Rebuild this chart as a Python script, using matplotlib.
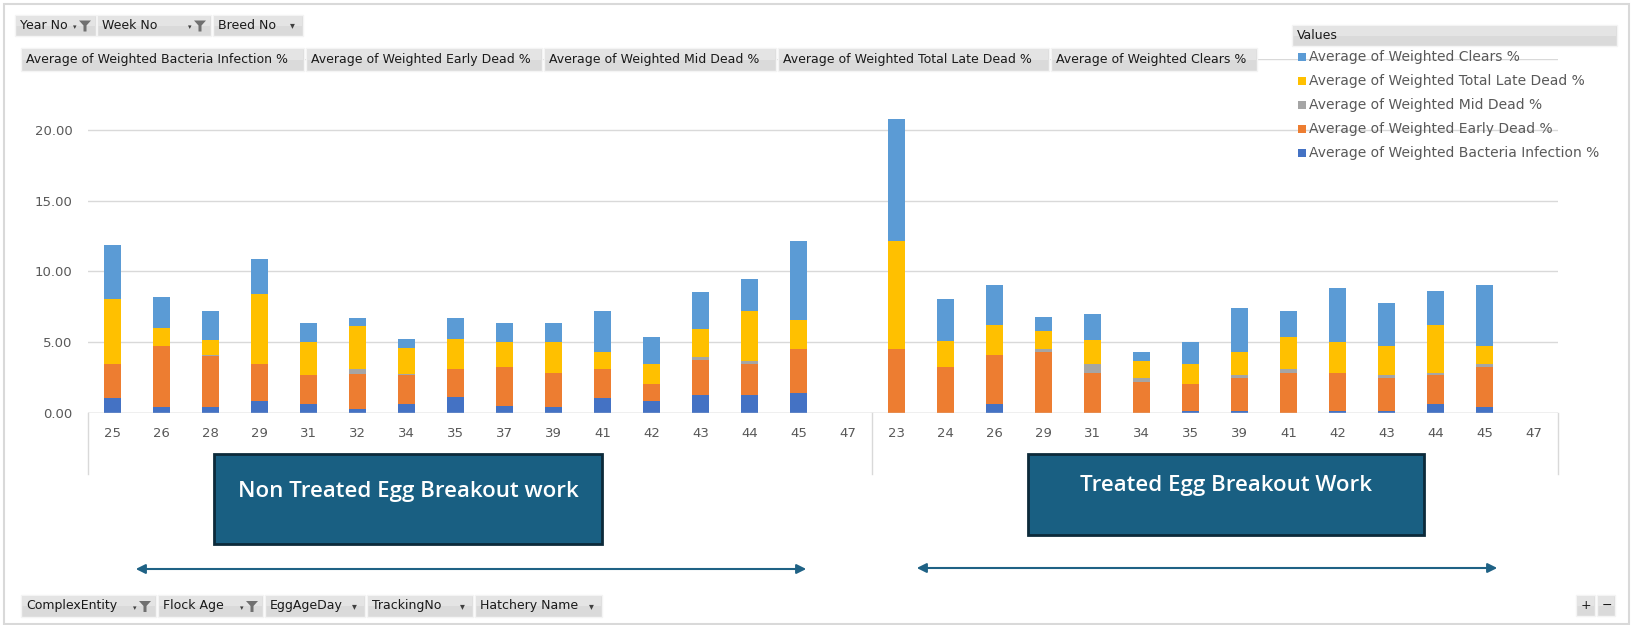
import numpy as np
import matplotlib
matplotlib.use("Agg")
import matplotlib.pyplot as plt
from matplotlib.patches import Rectangle, Polygon, FancyArrowPatch

# figure size in pixels
W, H = 1634, 625

# week numbers (category axis), two groups
weeks_non = ['25', '26', '28', '29', '31', '32', '34', '35', '37', '39', '41', '42', '43', '44', '45', '47']
weeks_trt = ['23', '24', '26', '29', '31', '34', '35', '39', '41', '42', '43', '44', '45', '47']

# non treated egg breakout values
bacteria_non = [1.06, 0.42, 0.42, 0.82, 0.61, 0.31, 0.61, 1.13, 0.52, 0.42, 1.04, 0.82, 1.27, 1.27, 1.44, 0]
early_non = [2.42, 4.29, 3.63, 2.66, 2.07, 2.42, 2.07, 1.98, 2.73, 2.40, 2.07, 1.23, 2.49, 2.21, 3.08, 0]
mid_non = [0, 0, 0.05, 0, 0.03, 0.38, 0.10, 0, 0, 0, 0, 0, 0.17, 0.17, 0, 0]
late_non = [4.57, 1.27, 1.08, 4.94, 2.31, 3.05, 1.81, 2.11, 1.76, 2.17, 1.22, 1.43, 2.02, 3.55, 2.02, 0]
clears_non = [3.83, 2.21, 2.00, 2.45, 1.36, 0.55, 0.63, 1.49, 1.34, 1.36, 2.87, 1.86, 2.59, 2.28, 5.58, 0]

# treated egg breakout values
bacteria_trt = [0, 0, 0.61, 0, 0, 0, 0.15, 0.15, 0, 0.15, 0.15, 0.61, 0.42, 0]
early_trt = [4.52, 3.25, 3.48, 4.33, 2.82, 2.21, 1.90, 2.30, 2.82, 2.67, 2.30, 2.07, 2.83, 0]
mid_trt = [0, 0, 0, 0.19, 0.66, 0.24, 0, 0.23, 0.29, 0, 0.23, 0.14, 0.23, 0]
late_trt = [7.60, 1.86, 2.10, 1.27, 1.65, 1.22, 1.43, 1.65, 2.23, 2.17, 2.03, 3.37, 1.23, 0]
clears_trt = [8.66, 2.94, 2.82, 0.96, 1.86, 0.64, 1.51, 3.06, 1.88, 3.83, 3.05, 2.40, 4.30, 0]

series_names = ['Average of Weighted Bacteria Infection %', 'Average of Weighted Early Dead %',
                'Average of Weighted Mid Dead %', 'Average of Weighted Total Late Dead %',
                'Average of Weighted Clears %']
colors = ['#4472C4', '#ED7D31', '#A5A5A5', '#FFC000', '#5B9BD5']
y_ticks = [0, 5, 10, 15, 20, 25]

top_filters = ['Year No', 'Week No', 'Breed No']
bottom_filters = ['ComplexEntity', 'Flock Age', 'EggAgeDay', 'TrackingNo', 'Hatchery Name']


def px(x, y):
    # pixel coords (origin top-left) -> figure fraction
    return x / W, 1 - y / H


def button(fig, x0, y0, x1, y1, label, icon=None, fs=9):
    fx, fy = px(x0, y1)
    fig.add_artist(Rectangle((fx, fy), (x1 - x0) / W, (y1 - y0) / H, transform=fig.transFigure,
                             facecolor='#DADADA', edgecolor='#F4F4F4', lw=1, zorder=5))
    # lighter upper half, a rough stand-in for the gradient
    fig.add_artist(Rectangle(px(x0 + 1, (y0 + y1) / 2), (x1 - x0 - 2) / W, (y1 - y0) / 2 / H - 1 / H,
                             transform=fig.transFigure, facecolor='#E4E4E4', edgecolor='none', zorder=5))
    fig.text(*px(x0 + 5, (y0 + y1) / 2), label, fontsize=fs, color='#1A1A1A',
             va='center', ha='left', zorder=6)
    if icon == 'funnel':
        # small drop arrow + funnel
        fig.text(*px(x1 - 21, (y0 + y1) / 2 + 2), '\u25BE', fontsize=5, color='#404040',
                 va='center', ha='center', zorder=6)
        cx, cy = x1 - 11, (y0 + y1) / 2
        pts = [px(cx - 6, cy - 5), px(cx + 6, cy - 5), px(cx + 1.5, cy),
               px(cx + 1.5, cy + 6), px(cx - 1.5, cy + 6), px(cx - 1.5, cy)]
        fig.add_artist(Polygon(pts, closed=True, transform=fig.transFigure,
                               facecolor='#707070', edgecolor='none', zorder=6))
    elif icon == 'arrow':
        fig.text(*px(x1 - 11, (y0 + y1) / 2), '\u25BE', fontsize=7, color='#404040',
                 va='center', ha='center', zorder=6)


weeks = weeks_non + weeks_trt
series = [bacteria_non + bacteria_trt, early_non + early_trt, mid_non + mid_trt,
          late_non + late_trt, clears_non + clears_trt]
x = np.arange(len(weeks))

fig = plt.figure(figsize=(W / 100, H / 100), dpi=100)
ax = fig.add_axes([88 / W, (H - 413) / H, (1558 - 88) / W, 354 / H])

bottom = np.zeros(len(weeks))
for vals, c, name in zip(series, colors, series_names):
    vals = np.array(vals)
    ax.bar(x, vals, width=0.33, bottom=bottom, color=c, label=name, zorder=3)
    bottom += vals

ax.set_xlim(-0.5, len(weeks) - 0.5)
ax.set_ylim(0, 25)
# the 25.00 label sits under the value buttons in the original, so leave it blank
ax.set_yticks(y_ticks, ['%.2f' % v if v < 25 else '' for v in y_ticks])
ax.set_xticks(x, weeks)
ax.tick_params(axis='both', length=0, colors='#595959', labelsize=9.5)
ax.tick_params(axis='x', pad=10)
ax.tick_params(axis='y', pad=11)
ax.grid(axis='y', color='#D9D9D9', lw=1, zorder=0)
for s in ax.spines.values():
    s.set_visible(False)
ax.axhline(0, color='#D0D0D0', lw=1, zorder=4)

# group separators of the two level axis
for xv in [-0.5, len(weeks_non) - 0.5, len(weeks) - 0.5]:
    ax.plot([xv, xv], [0, -61 / 354], color='#D9D9D9', lw=1,
            transform=ax.get_xaxis_transform(), clip_on=False)

# outer frame
fig.add_artist(Rectangle(px(4, 624), (1629 - 4) / W, (624 - 4) / H, transform=fig.transFigure,
                         facecolor='none', edgecolor='#D9D9D9', lw=1.5, zorder=1))

# pivot field buttons
button(fig, 15, 15, 96, 36, top_filters[0], 'funnel')
button(fig, 97, 15, 211, 36, top_filters[1], 'funnel')
button(fig, 213, 15, 303, 36, top_filters[2], 'arrow')

value_edges = [21, 306, 544, 778, 1051, 1259]
for i, name in enumerate(series_names):
    button(fig, value_edges[i], 48, value_edges[i + 1] - 2, 71, name)

bottom_edges = [21, 158, 265, 367, 475, 604]
bottom_icons = ['funnel', 'funnel', 'arrow', 'arrow', 'arrow']
for i, name in enumerate(bottom_filters):
    button(fig, bottom_edges[i], 595, bottom_edges[i + 1] - 2, 617, name, bottom_icons[i])

button(fig, 1576, 595, 1595, 616, '+')
button(fig, 1597, 595, 1615, 616, '\u2212')

# legend ("Values")
button(fig, 1292, 25, 1617, 46, 'Values', fs=9)
leg_y = [57, 81, 105, 129, 153]
for yy, i in zip(leg_y, [4, 3, 2, 1, 0]):
    fig.add_artist(Rectangle(px(1298, yy + 4), 8 / W, 8 / H, transform=fig.transFigure,
                             facecolor=colors[i], edgecolor='none', zorder=2))
    fig.text(*px(1309, yy), series_names[i], fontsize=10, color='#595959',
             va='center', ha='left', zorder=2)

# annotation boxes
box_col, box_edge = '#195F82', '#0C2A3A'
fig.add_artist(Rectangle(px(214, 544), (602 - 214) / W, (544 - 454) / H, transform=fig.transFigure,
                         facecolor=box_col, edgecolor=box_edge, lw=2, zorder=5))
fig.text(*px(408, 491), 'Non Treated Egg Breakout work', fontsize=16, color='white',
         family='Open Sans', weight='semibold', ha='center', va='center', zorder=6)
fig.add_artist(Rectangle(px(1028, 535), (1424 - 1028) / W, (535 - 454) / H, transform=fig.transFigure,
                         facecolor=box_col, edgecolor=box_edge, lw=2, zorder=5))
fig.text(*px(1226, 486), 'Treated Egg Breakout Work', fontsize=16, color='white',
         family='Open Sans', weight='semibold', ha='center', va='center', zorder=6)

# range arrows
for xa, xb, ya in [(133, 809, 569), (914, 1500, 568)]:
    fig.add_artist(FancyArrowPatch(px(xa, ya), px(xb, ya), transform=fig.transFigure,
                                   arrowstyle='<|-|>', mutation_scale=14, color='#1F6285',
                                   lw=1.5, zorder=5))

plt.savefig('out.png', dpi=100)
